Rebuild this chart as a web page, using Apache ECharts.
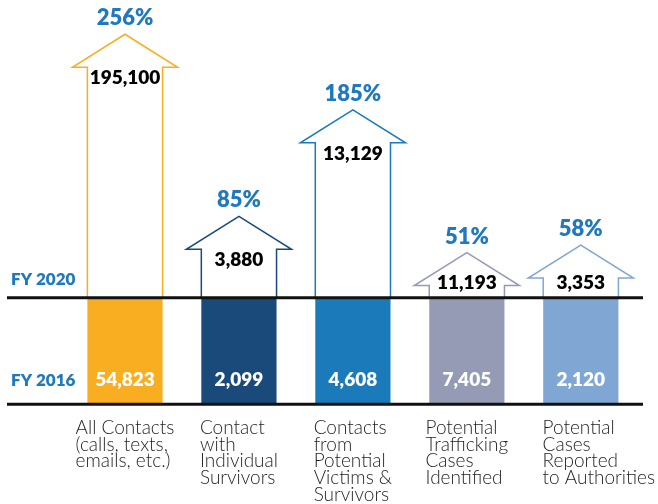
<!DOCTYPE html>
<html><head><meta charset="utf-8">
<script src="https://cdn.jsdelivr.net/npm/echarts@6/dist/echarts.min.js"></script>
<style>html,body{margin:0;padding:0;background:#fff}#c{width:658px;height:504px}</style>
</head><body><div id="c"></div>
<script>
const categories = [
  'All Contacts\n(calls, texts,\nemails, etc.)',
  'Contact\nwith\nIndividual\nSurvivors',
  'Contacts\nfrom\nPotential\nVictims &\nSurvivors',
  'Potential\nTrafficking\nCases\nIdentified',
  'Potential\nCases\nReported\nto Authorities'
];
const fy2016 = [54823, 2099, 4608, 7405, 2120];
const fy2020 = [195100, 3880, 13129, 11193, 3353];
const pctChange = [256, 85, 185, 51, 58];
const baselinePct = 100; // FY 2016 drawn as the 100% baseline block
const periodLabels = ['FY 2020', 'FY 2016'];

const colors = ['#F9AE22', '#1A4A79', '#1B7BBA', '#969BB5', '#80A7D4'];
const blue = '#2079BE';
const fmt = v => v.toLocaleString('en-US');

const chart = echarts.init(document.getElementById('c'), null, {renderer: 'canvas'});

const arrowData = categories.map((c, i) => [i, pctChange[i], fy2016[i], fy2020[i]]);

chart.setOption({
  animation: false,
  backgroundColor: '#fff',
  grid: {left: 68, right: 20, top: 21, bottom: 98},
  xAxis: {
    type: 'category',
    data: categories,
    axisLine: {show: false},
    axisTick: {show: false},
    axisLabel: {
      margin: 15,
      interval: 0,
      formatter: (v, i) => v.split('\n').map(s => i === 4 ? '{p|' + s + '}' : '{l|' + s + '}').join('\n'),
      rich: {
        l: {fontFamily: 'Lato', fontWeight: 300, fontSize: 19, lineHeight: 16.7, color: '#1e1e1e', align: 'left'},
        p: {fontFamily: 'Lato', fontWeight: 300, fontSize: 19, lineHeight: 16.7, color: '#1e1e1e', align: 'left', padding: [0, 0, 0, 36]}
      }
    }
  },
  yAxis: {
    type: 'value', min: -baselinePct, max: 260, show: false, splitLine: {show: false}
  },
  series: [
    {
      type: 'custom',
      data: arrowData,
      z: 2,
      renderItem(params, api) {
        const i = api.value(0);
        const pct = api.value(1);
        const catW = api.size([1, 0])[0];
        const barW = catW * 0.66;
        const p0 = api.coord([i, 0]);
        const cx = p0[0], y0 = p0[1];
        const yBase = api.coord([i, -baselinePct])[1];
        const yTip = api.coord([i, pct])[1] + 9;
        const headH = 33, wing = 15;
        const yHead = yTip + headH;
        const l = cx - barW / 2, r = cx + barW / 2;
        const col = colors[i];
        return {
          type: 'group',
          children: [
            {type: 'rect', shape: {x: l, y: y0, width: barW, height: yBase - y0}, style: {fill: col}},
            {type: 'polygon', shape: {points: [[l, y0], [l, yHead], [l - wing, yHead], [cx, yTip], [r + wing, yHead], [r, yHead], [r, y0]]},
              style: {fill: '#fff', stroke: col, lineWidth: 1.5}},
            {type: 'text', style: {x: cx, y: yTip - 16, text: pct + '%', align: 'center', verticalAlign: 'middle',
              fill: blue, font: '800 22px Lato'}},
            {type: 'text', style: {x: cx, y: Math.min(yHead + 11, y0 - 15), text: fmt(api.value(3)), align: 'center', verticalAlign: 'middle',
              fill: '#000', font: '800 19px Lato'}},
            {type: 'text', style: {x: cx, y: yBase - 24, text: fmt(api.value(2)), align: 'center', verticalAlign: 'middle',
              fill: '#fff', font: '800 19px Lato'}}
          ]
        };
      }
    },
    {
      type: 'custom',
      data: [[0, 0]],
      z: 3,
      renderItem(params, api) {
        const y0 = api.coord([0, 0])[1];
        const yBase = api.coord([0, -baselinePct])[1];
        const x1 = 7, x2 = api.getWidth() - 15;
        return {
          type: 'group',
          children: [
            {type: 'line', shape: {x1, y1: y0, x2, y2: y0}, style: {stroke: '#111', lineWidth: 3}},
            {type: 'line', shape: {x1, y1: yBase, x2, y2: yBase}, style: {stroke: '#111', lineWidth: 3}},
            {type: 'text', style: {x: 11, y: y0 - 18, text: periodLabels[0], align: 'left', verticalAlign: 'middle', fill: blue, font: '800 17px Lato'}},
            {type: 'text', style: {x: 11, y: yBase - 24, text: periodLabels[1], align: 'left', verticalAlign: 'middle', fill: blue, font: '800 17px Lato'}}
          ]
        };
      }
    }
  ]
});
</script>
</body></html>
